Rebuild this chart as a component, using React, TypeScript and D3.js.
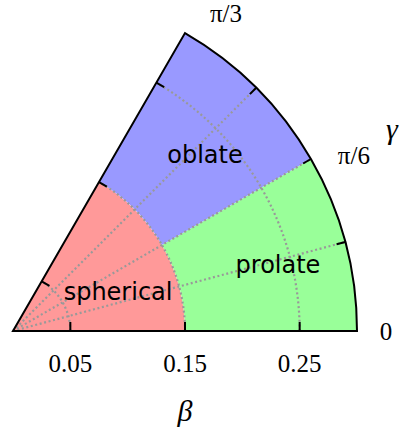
import React from 'react';
import * as d3 from 'd3';

// regions of the (beta, gamma) plane
const regionNames = ['spherical', 'prolate', 'oblate'];
const regionBeta = [[0, 0.15], [0.15, 0.3], [0.15, 0.3]];
const regionGamma = [[0, Math.PI / 3], [0, Math.PI / 6], [Math.PI / 6, Math.PI / 3]];
const regionColors = ['#ff9999', '#99ff99', '#9999ff'];

// where each region name sits, in (beta, gamma)
const labelBeta = [0.0955, 0.2366, 0.2225];
const labelGamma = [0.286, 0.216, 0.719];

const betaMax = 0.3;
const gammaMax = Math.PI / 3;
const betaTicks = [0.05, 0.15, 0.25];
const betaTickLabels = ['0.05', '0.15', '0.25'];
const gammaTicks = [Math.PI / 12, Math.PI / 6, Math.PI / 4];
const gammaLabelValues = [0, Math.PI / 6, Math.PI / 3];
const gammaLabels = ['0', 'π/6', 'π/3'];

const W = 401;
const H = 430;
const ox = 13;
const oy = 331;
const tickLen = 9;
const serif = "'Liberation Serif'";
const sans = "'DejaVu Sans'";

const App = () => {
  const r = d3.scaleLinear().domain([0, betaMax]).range([0, 344]);
  const pt = (b: number, g: number): [number, number] => [ox + r(b) * Math.cos(g), oy - r(b) * Math.sin(g)];

  // d3.arc measures angles clockwise from 12 o'clock
  const sector = (b: number[], g: number[]) =>
    d3.arc()({
      innerRadius: r(b[0]),
      outerRadius: r(b[1]),
      startAngle: Math.PI / 2 - g[1],
      endAngle: Math.PI / 2 - g[0],
    } as any) as string;

  // dotted grid: arcs at the beta ticks, rays at the gamma ticks
  const grid = d3.path();
  betaTicks.forEach(b => {
    const [x0, y0] = pt(b, 0);
    grid.moveTo(x0, y0);
    grid.arc(ox, oy, r(b), 0, -gammaMax, true);
  });
  gammaTicks.forEach(g => {
    const [x1, y1] = pt(betaMax, g);
    grid.moveTo(ox, oy);
    grid.lineTo(x1, y1);
  });

  // outline of the sector
  const border = d3.path();
  const [ex, ey] = pt(betaMax, 0);
  border.moveTo(ox, oy);
  border.lineTo(ex, ey);
  border.arc(ox, oy, r(betaMax), 0, -gammaMax, true);
  border.closePath();

  // tick marks pointing inward
  const ticks = d3.path();
  betaTicks.forEach(b => {
    const [x, y] = pt(b, 0);
    ticks.moveTo(x, y);
    ticks.lineTo(x, y - tickLen);
    const [u, v] = pt(b, gammaMax);
    ticks.moveTo(u, v);
    ticks.lineTo(u + tickLen * Math.sin(gammaMax), v + tickLen * Math.cos(gammaMax));
  });
  gammaTicks.forEach(g => {
    const [x, y] = pt(betaMax, g);
    ticks.moveTo(x, y);
    ticks.lineTo(x - tickLen * Math.cos(g), y + tickLen * Math.sin(g));
  });

  const gammaLabelOffsets: [number, number][] = [[29, 9], [43, 5], [41, -11]];

  return (
    <svg width={W} height={H} style={{ position: 'absolute', left: 0, top: 0, background: '#fff' }}>
      <g transform={`translate(${ox},${oy})`}>
        {regionNames.map((n, i) => (
          <path key={n} d={sector(regionBeta[i], regionGamma[i])} fill={regionColors[i]} />
        ))}
      </g>
      <path d={grid.toString()} fill="none" stroke="#999" strokeWidth={2.2} strokeDasharray="2,2.6" />
      <path d={border.toString()} fill="none" stroke="#000" strokeWidth={2} strokeLinejoin="miter" />
      <path d={ticks.toString()} fill="none" stroke="#000" strokeWidth={2} />

      {regionNames.map((n, i) => {
        const [x, y] = pt(labelBeta[i], labelGamma[i]);
        return (
          <text key={n} x={x} y={y} textAnchor="middle" style={{ fontFamily: sans, fontSize: 24 }} fill="#000">
            {n}
          </text>
        );
      })}

      {betaTicks.map((b, i) => (
        <text key={b} x={pt(b, 0)[0]} y={372} textAnchor="middle" style={{ fontFamily: serif, fontSize: 25 }}>
          {betaTickLabels[i]}
        </text>
      ))}
      {gammaLabelValues.map((g, i) => {
        const [x, y] = pt(betaMax, g);
        return (
          <text key={gammaLabels[i]} x={x + gammaLabelOffsets[i][0]} y={y + gammaLabelOffsets[i][1]} textAnchor="middle"
            style={{ fontFamily: serif, fontSize: 25 }}>
            {gammaLabels[i]}
          </text>
        );
      })}
      <text x={185} y={421} textAnchor="middle" style={{ fontFamily: serif, fontStyle: 'italic', fontSize: 30 }}>β</text>
      <text x={392} y={139} textAnchor="middle" style={{ fontFamily: serif, fontStyle: 'italic', fontSize: 30 }}>γ</text>
    </svg>
  );
};

export default App;
